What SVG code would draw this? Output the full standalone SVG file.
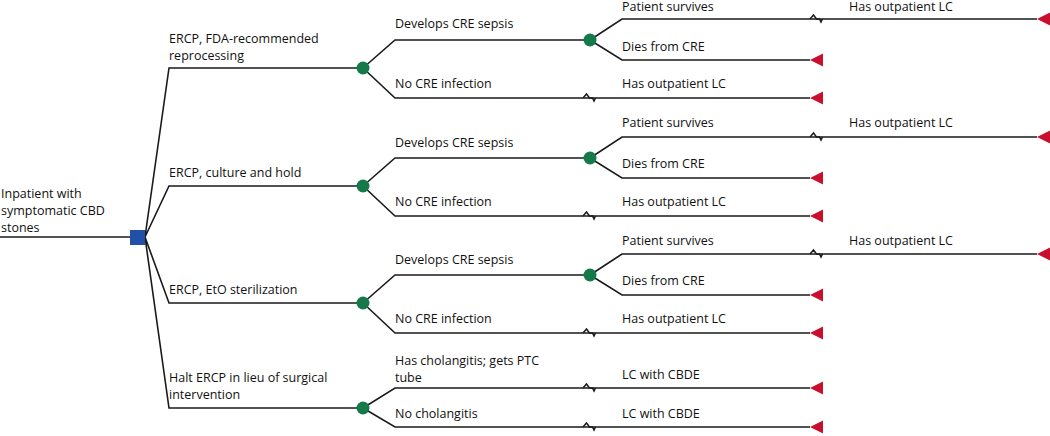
<svg xmlns="http://www.w3.org/2000/svg" xmlns:xlink="http://www.w3.org/1999/xlink" width="1050" height="436" viewBox="0 0 1050 436">
<style>
.ln{fill:none;stroke:#1a1a1a;stroke-width:1.6}
.tk{fill:none;stroke:#1a1a1a;stroke-width:1.5}
.tx{font-family:"Open Sans","Noto Sans","Liberation Sans",sans-serif;font-size:12.5px;fill:#111}
.dec{fill:#2150a8}
.chc{fill:#16794a}
.term{fill:#c8102e}
</style>
<defs>
<circle id="chance" r="6.5" class="chc"/>
<polygon id="tri" points="0,0 13,-6.5 13,6.5" class="term"/>
<path id="tick" d="M-8,0 L-4.5,-4 L-1.5,0 L1.5,0 L3,3 L4.5,0" class="tk"/>
</defs>
<rect width="1050" height="436" fill="#fff"/>

<g id="connectors">
<path class="ln" d="M0,237 H130"/>
<path class="ln" d="M145,237 L169,68 H363 M145,237 L169,186 H363 M145,237 L169,303 H363 M145,237 L169,408 H363"/>
<path class="ln" d="M363,68 L395,40 H590 M590,40 L622,19 H1037 M590,40 L622,60 H810 M363,68 L395,98 H810"/>
<path class="ln" d="M363,186 L395,158 H590 M590,158 L622,137 H1037 M590,158 L622,178 H810 M363,186 L395,216 H810"/>
<path class="ln" d="M363,303 L395,275 H590 M590,275 L622,254 H1037 M590,275 L622,295 H810 M363,303 L395,333 H810"/>
<path class="ln" d="M363,408 L395,388 H810 M363,408 L395,427 H810"/>
<use href="#tick" x="818" y="19"/>
<use href="#tick" x="591" y="98"/>
<use href="#tick" x="818" y="137"/>
<use href="#tick" x="591" y="216"/>
<use href="#tick" x="818" y="254"/>
<use href="#tick" x="591" y="333"/>
<use href="#tick" x="591" y="388"/>
<use href="#tick" x="591" y="427"/>
</g>

<g id="root">
<rect class="dec" x="130" y="230" width="15" height="15"/>
<text class="tx" x="1" y="198">Inpatient with</text>
<text class="tx" x="1" y="215">symptomatic CBD</text>
<text class="tx" x="1" y="232">stones</text>
</g>

<g id="labels">
<text class="tx" x="169" y="43">ERCP, FDA-recommended</text>
<text class="tx" x="169" y="60">reprocessing</text>
<text class="tx" x="169" y="177">ERCP, culture and hold</text>
<text class="tx" x="169" y="294">ERCP, EtO sterilization</text>
<text class="tx" x="169" y="382">Halt ERCP in lieu of surgical</text>
<text class="tx" x="169" y="399">intervention</text>

<text class="tx" x="395" y="28">Develops CRE sepsis</text>
<text class="tx" x="395" y="88">No CRE infection</text>
<text class="tx" x="622" y="11">Patient survives</text>
<text class="tx" x="849" y="11">Has outpatient LC</text>
<text class="tx" x="622" y="51">Dies from CRE</text>
<text class="tx" x="622" y="88">Has outpatient LC</text>

<text class="tx" x="395" y="147">Develops CRE sepsis</text>
<text class="tx" x="395" y="206">No CRE infection</text>
<text class="tx" x="622" y="127">Patient survives</text>
<text class="tx" x="849" y="127">Has outpatient LC</text>
<text class="tx" x="622" y="168">Dies from CRE</text>
<text class="tx" x="622" y="206">Has outpatient LC</text>

<text class="tx" x="395" y="264">Develops CRE sepsis</text>
<text class="tx" x="395" y="323">No CRE infection</text>
<text class="tx" x="622" y="245">Patient survives</text>
<text class="tx" x="849" y="245">Has outpatient LC</text>
<text class="tx" x="622" y="285">Dies from CRE</text>
<text class="tx" x="622" y="323">Has outpatient LC</text>

<text class="tx" x="395" y="365">Has cholangitis; gets PTC</text>
<text class="tx" x="395" y="382">tube</text>
<text class="tx" x="622" y="379">LC with CBDE</text>
<text class="tx" x="395" y="418">No cholangitis</text>
<text class="tx" x="622" y="418">LC with CBDE</text>
</g>

<g id="chance-1"><use href="#chance" x="363" y="68"/></g>
<g id="chance-1a"><use href="#chance" x="590" y="40"/></g>
<g id="chance-2"><use href="#chance" x="363" y="186"/></g>
<g id="chance-2a"><use href="#chance" x="590" y="158"/></g>
<g id="chance-3"><use href="#chance" x="363" y="303"/></g>
<g id="chance-3a"><use href="#chance" x="590" y="275"/></g>
<g id="chance-4"><use href="#chance" x="363" y="408"/></g>

<g id="term-1a"><use href="#tri" x="1037" y="19"/></g>
<g id="term-1b"><use href="#tri" x="810" y="60"/></g>
<g id="term-1c"><use href="#tri" x="810" y="98"/></g>
<g id="term-2a"><use href="#tri" x="1037" y="137"/></g>
<g id="term-2b"><use href="#tri" x="810" y="178"/></g>
<g id="term-2c"><use href="#tri" x="810" y="216"/></g>
<g id="term-3a"><use href="#tri" x="1037" y="254"/></g>
<g id="term-3b"><use href="#tri" x="810" y="295"/></g>
<g id="term-3c"><use href="#tri" x="810" y="333"/></g>
<g id="term-4a"><use href="#tri" x="810" y="388"/></g>
<g id="term-4b"><use href="#tri" x="810" y="427"/></g>
</svg>
